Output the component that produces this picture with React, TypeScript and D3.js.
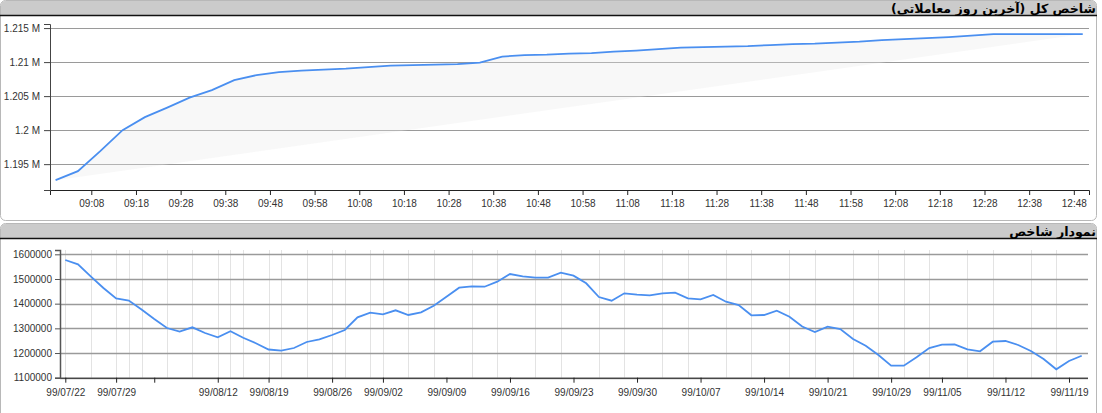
import { useEffect, useRef } from 'react';
import * as d3 from 'd3';

// intraday index (last trading day), one point every 5 minutes
const intradayTimes = [
  '09:00', '09:05', '09:10', '09:15', '09:20', '09:25', '09:30', '09:35', '09:40', '09:45',
  '09:50', '09:55', '10:00', '10:05', '10:10', '10:15', '10:20', '10:25', '10:30', '10:35',
  '10:40', '10:45', '10:50', '10:55', '11:00', '11:05', '11:10', '11:15', '11:20', '11:25',
  '11:30', '11:35', '11:40', '11:45', '11:50', '11:55', '12:00', '12:05', '12:10', '12:15',
  '12:20', '12:25', '12:30', '12:35', '12:40', '12:45', '12:50',
];
const intradayValues = [
  1192650, 1193970, 1196910, 1200000, 1201910, 1203310, 1204780, 1205880, 1207350, 1208090,
  1208530, 1208750, 1208900, 1209040, 1209260, 1209490, 1209560, 1209630, 1209710, 1209930,
  1210810, 1211030, 1211100, 1211250, 1211320, 1211540, 1211690, 1211910, 1212130, 1212210,
  1212280, 1212350, 1212500, 1212650, 1212720, 1212870, 1213010, 1213240, 1213380, 1213530,
  1213680, 1213900, 1214120, 1214120, 1214120, 1214120, 1214120,
];
const intradayTickLabels = [
  '09:08', '09:18', '09:28', '09:38', '09:48', '09:58', '10:08', '10:18', '10:28', '10:38',
  '10:48', '10:58', '11:08', '11:18', '11:28', '11:38', '11:48', '11:58', '12:08', '12:18',
  '12:28', '12:38', '12:48',
];
const intradayYTicks = [1195000, 1200000, 1205000, 1210000, 1215000];

// daily index, one point per trading day
const dailyValues = [
  1576900, 1559500, 1510900, 1463500, 1420900, 1412800, 1376300, 1337800, 1301400, 1287200,
  1304200, 1281100, 1263700, 1288000, 1262100, 1239400, 1214300, 1209400, 1220300, 1244700,
  1255600, 1273000, 1293300, 1344700, 1363400, 1356900, 1373100, 1354100, 1365000, 1391700,
  1428200, 1464700, 1470300, 1468700, 1489000, 1520200, 1510900, 1505200, 1505200, 1525400,
  1513300, 1482500, 1427000, 1412000, 1442000, 1436300, 1433900, 1442000, 1444400, 1421700,
  1417700, 1435100, 1407900, 1394600, 1352800, 1354100, 1371500, 1347200, 1307500, 1285200,
  1306600, 1297300, 1256800, 1229700, 1192000, 1148600, 1148600, 1182700, 1220300, 1233700,
  1235300, 1215100, 1207000, 1245900, 1248700, 1232500, 1208200, 1175800, 1134000, 1167700,
  1189100,
];
const dailyTickIndex = [0, 4, 7, 12, 16, 21, 25, 30, 35, 40, 45, 50, 55, 60, 65, 69, 74, 79];
const dailyTickLabels = [
  '99/07/22', '99/07/29', '', '99/08/12', '99/08/19', '99/08/26', '99/09/02', '99/09/09',
  '99/09/16', '99/09/23', '99/09/30', '99/10/07', '99/10/14', '99/10/21', '99/10/29',
  '99/11/05', '99/11/12', '99/11/19',
];
const dailyGridIndex = [
  0, 2, 4, 5, 6, 8, 10, 12, 13, 14, 16, 17, 19, 21, 22, 24, 25, 27, 29, 32, 34, 37, 39, 42,
  44, 47, 49, 52, 54, 57, 59, 62, 64, 66, 68, 71, 73, 76, 78,
];
const dailyYTicks = [1100000, 1200000, 1300000, 1400000, 1500000, 1600000];

const W = 1102;
const H = 413;
const FONT = '"Liberation Sans", Arial, sans-serif';
const LINE = '#4a8ff0';

const toMin = (s: string) => {
  const [h, m] = s.split(':').map(Number);
  return h * 60 + m;
};

export default function App() {
  const svgRef = useRef<SVGSVGElement>(null);

  useEffect(() => {
    if (!svgRef.current) return;
    const svg = d3.select(svgRef.current);
    svg.selectAll('*').remove();

    // panels
    const panel = (y: number, h: number, title: string) => {
      svg.append('rect')
        .attr('x', 0.5).attr('y', y + 0.5)
        .attr('width', 1096).attr('height', h)
        .attr('rx', 5)
        .attr('fill', '#fff')
        .attr('stroke', '#b8b8b8');
      svg.append('path')
        .attr('d', `M1,${y + 15.5} L1,${y + 5} Q1,${y + 1} 5,${y + 1} L1092,${y + 1} Q1096,${y + 1} 1096,${y + 5} L1096,${y + 15.5} Z`)
        .attr('fill', '#cbcbcb');
      svg.append('line')
        .attr('x1', 0).attr('x2', 1097)
        .attr('y1', y + 15.5).attr('y2', y + 15.5)
        .attr('stroke', '#111').attr('stroke-width', 1.5);
      svg.append('text')
        .attr('x', 1096).attr('y', y + 12.5)
        .attr('direction', 'rtl')
        .attr('text-anchor', 'start')
        .style('font-family', '"DejaVu Sans", Tahoma, sans-serif')
        .style('font-size', '12.6px')
        .style('font-weight', 'bold')
        .attr('fill', '#000')
        .text(title);
    };
    panel(0, 220, 'شاخص کل (آخرین روز معاملاتی)');
    panel(223, 200, 'نمودار شاخص');

    // ---- intraday chart ----
    const tl = 50, tr = 1089, tt = 24, tb = 190;
    const x1 = d3.scaleLinear().domain([toMin('08:58') + 0.75, toMin('12:51') + 0.4]).range([tl, tr]);
    const y1 = d3.scaleLinear().domain([1191200, 1215600]).range([tb, tt]);
    const g1 = svg.append('g');

    g1.selectAll('.hgrid')
      .data(intradayYTicks)
      .join('line')
      .attr('x1', tl).attr('x2', tr)
      .attr('y1', d => Math.round(y1(d)) + 0.5).attr('y2', d => Math.round(y1(d)) + 0.5)
      .attr('stroke', '#9a9a9a');

    const pts1 = intradayTimes.map((t, i) => [x1(toMin(t)), y1(intradayValues[i])] as [number, number]);
    g1.append('path')
      .attr('d', d3.line()(pts1) + 'Z')
      .attr('fill', '#e8e8e8')
      .attr('fill-opacity', 0.32)
      .attr('stroke', 'none');
    g1.append('path')
      .attr('d', d3.line()(pts1))
      .attr('fill', 'none')
      .attr('stroke', LINE)
      .attr('stroke-width', 1.8);

    g1.append('g')
      .attr('transform', `translate(0,${tb})`)
      .call(d3.axisBottom(x1).tickValues(intradayTickLabels.map(toMin)).tickSizeOuter(0).tickSize(5).tickPadding(5)
        .tickFormat((d, i) => intradayTickLabels[i]))
      .call(a => a.select('.domain').attr('stroke', '#222'))
      .call(a => a.selectAll('line').attr('stroke', '#222'))
      .selectAll('text')
      .style('font-family', FONT).style('font-size', '10px').attr('fill', '#333');

    g1.append('g')
      .attr('transform', `translate(${tl},0)`)
      .call(d3.axisLeft(y1).tickValues(intradayYTicks).tickSizeOuter(0).tickSize(6).tickPadding(4)
        .tickFormat(d => `${+d / 1e6} M`))
      .call(a => a.select('.domain').attr('stroke', '#444'))
      .call(a => a.selectAll('line').attr('stroke', '#444'))
      .selectAll('text')
      .style('font-family', FONT).style('font-size', '10px').attr('fill', '#333');

    // ---- daily chart ----
    const bl = 60, br = 1088, bt = 250, bb = 377.7;
    const x2 = d3.scaleLinear().domain([0, dailyValues.length - 1]).range([65.3, 1081.7]);
    const y2 = d3.scaleLinear().domain([1100000, 1617500]).range([bb, bt]);
    const g2 = svg.append('g');

    g2.selectAll('.vgrid')
      .data(dailyGridIndex)
      .join('line')
      .attr('x1', d => Math.round(x2(d)) + 0.5).attr('x2', d => Math.round(x2(d)) + 0.5)
      .attr('y1', bt).attr('y2', bb)
      .attr('stroke', '#e3e3e3');

    g2.selectAll('.hgrid')
      .data(dailyYTicks)
      .join('line')
      .attr('x1', bl).attr('x2', br)
      .attr('y1', d => Math.round(y2(d)) + 0.5).attr('y2', d => Math.round(y2(d)) + 0.5)
      .attr('stroke', '#9a9a9a')
      .attr('stroke-width', 1.3);

    g2.append('path')
      .attr('d', d3.line<number>().x((d, i) => x2(i)).y(d => y2(d))(dailyValues))
      .attr('fill', 'none')
      .attr('stroke', LINE)
      .attr('stroke-width', 1.8);

    g2.append('g')
      .attr('transform', `translate(0,${bb})`)
      .call(d3.axisBottom(x2).tickValues(dailyTickIndex).tickSizeOuter(0).tickSize(5).tickPadding(6)
        .tickFormat((d, i) => dailyTickLabels[i]))
      .call(a => a.select('.domain').attr('d', `M${bl},0.5H${br}`).attr('stroke', '#222'))
      .call(a => a.selectAll('line').attr('stroke', '#222'))
      .selectAll('text')
      .style('font-family', FONT).style('font-size', '10px').attr('fill', '#333');

    g2.append('g')
      .attr('transform', `translate(${bl},0)`)
      .call(d3.axisLeft(y2).tickValues(dailyYTicks).tickSizeOuter(0).tickSize(5).tickPadding(3)
        .tickFormat(d => `${d}`))
      .call(a => a.select('.domain').attr('stroke', '#555').attr('stroke-width', 1.5))
      .call(a => a.selectAll('line').attr('stroke', '#555'))
      .selectAll('text')
      .style('font-family', FONT).style('font-size', '10px').attr('fill', '#333');
  }, []);

  return (
    <div style={{ position: 'absolute', left: 0, top: 0, width: W, height: H, background: '#fff' }}>
      <svg ref={svgRef} width={W} height={H}></svg>
    </div>
  );
}
